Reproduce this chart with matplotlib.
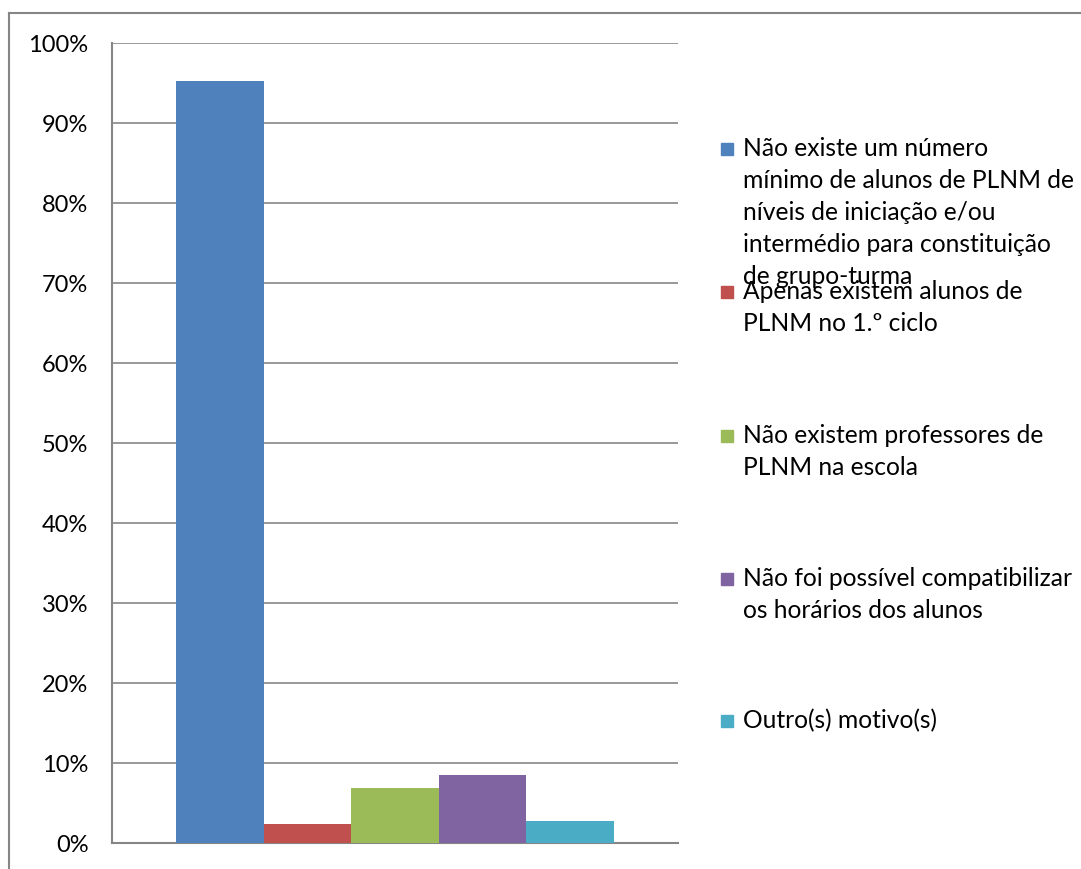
import numpy as np
import matplotlib.pyplot as plt
from matplotlib.patches import Rectangle
from matplotlib.lines import Line2D

plt.rcParams['font.family'] = ['Lato', 'DejaVu Sans']

# Dados
motivos = [
    "Não existe um número\nmínimo de alunos de PLNM de\nníveis de iniciação e/ou\nintermédio para constituição\nde grupo-turma",
    "Apenas existem alunos de\nPLNM no 1.º ciclo",
    "Não existem professores de\nPLNM na escola",
    "Não foi possível compatibilizar\nos horários dos alunos",
    "Outro(s) motivo(s)",
]
valores = [95.2, 2.4, 6.9, 8.5, 2.8]
cores = ["#4F81BD", "#C0504D", "#9BBB59", "#8064A2", "#4BACC6"]
ticks = np.arange(0, 101, 10)

W, H = 1081, 870
fig = plt.figure(figsize=(W / 100, H / 100), dpi=100)

# moldura exterior do gráfico
fig.add_artist(Line2D([9 / W, 1], [1 - 14 / H, 1 - 14 / H], color="#868686", lw=1.5))
fig.add_artist(Line2D([9 / W, 9 / W], [0, 1 - 14 / H], color="#868686", lw=1.5))

ax = fig.add_axes([112 / W, 1 - 844 / H, (678 - 112) / W, (844 - 44) / H])

x = np.arange(len(valores))
ax.bar(x, valores, width=1.0, color=cores, zorder=3)
ax.set_xlim(-1.23, 5.23)
ax.set_ylim(0, 100)
ax.set_yticks(ticks)
ax.set_yticklabels([f"{t}%" for t in ticks], fontsize=17)
ax.tick_params(axis="y", length=0, pad=17)
ax.set_xticks([])
ax.grid(axis="y", color="#868686", lw=1.2, zorder=0)
for s in ["top", "right"]:
    ax.spines[s].set_visible(False)
for s in ["left", "bottom"]:
    ax.spines[s].set_color("#868686")
    ax.spines[s].set_linewidth(1.5)

# legenda manual
leg_y = [150, 293, 437, 580, 722]
for lab, cor, yy in zip(motivos, cores, leg_y):
    fig.add_artist(Rectangle((721 / W, 1 - (yy + 6) / H), 12 / W, 12 / H,
                             color=cor, transform=fig.transFigure))
    fig.text(743 / W, 1 - (yy - 13) / H, lab, fontsize=17.7, va="top", ha="left",
             linespacing=1.47)

fig.savefig("out.png", dpi=100)
